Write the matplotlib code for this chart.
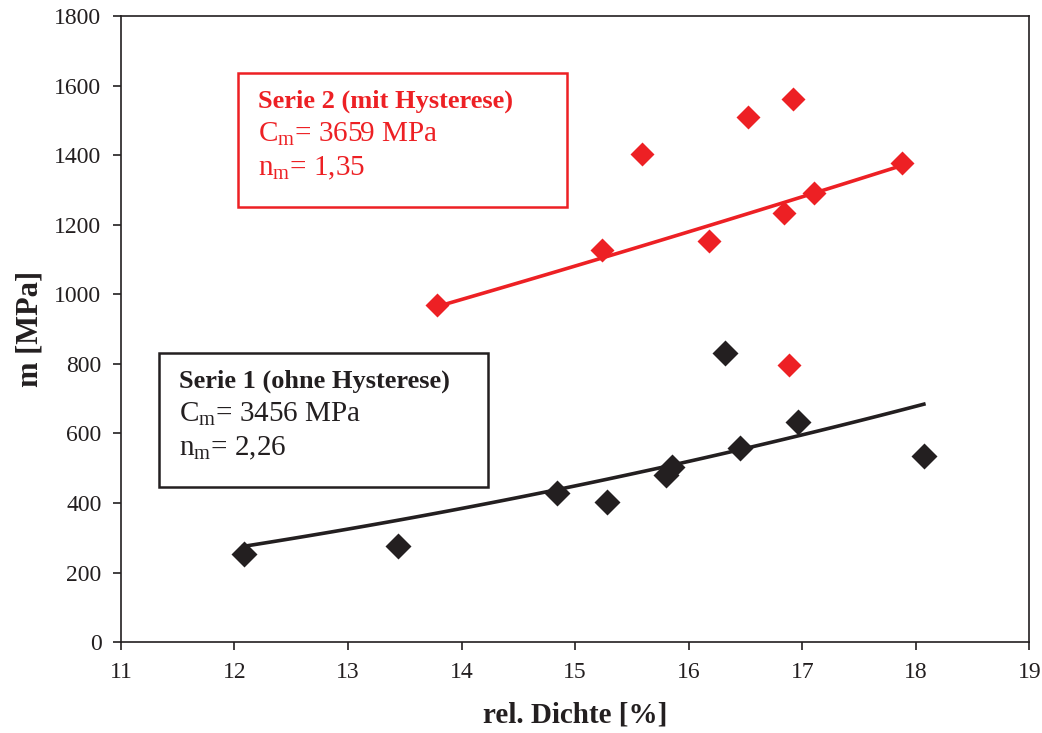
import numpy as np
import matplotlib
matplotlib.use("Agg")
import matplotlib.pyplot as plt

# Messwerte: relative Dichte [%] und Modul m [MPa]
dichte_s1 = [12.08, 13.44, 14.84, 15.28, 15.80, 15.85, 16.32, 16.45, 16.96, 18.07]
m_s1 = [253, 277, 428, 402, 480, 504, 831, 557, 632, 536]
dichte_s2 = [13.78, 15.24, 15.59, 16.18, 16.52, 16.84, 16.92, 16.88, 17.10, 17.88]
m_s2 = [969, 1127, 1403, 1153, 1510, 1234, 1561, 796, 1290, 1378]

# Potenzansatz m = C_m * (D / D_REF)^n_m
C_m1, n_m1 = 3456, 2.26
C_m2, n_m2 = 3659, 1.35
D_REF = 37.0

ROT = '#ED2024'
SCHWARZ = '#231F20'

plt.rcParams['font.family'] = ['Liberation Serif', 'DejaVu Serif']
plt.rcParams['mathtext.fontset'] = 'custom'
plt.rcParams['mathtext.rm'] = 'Liberation Serif'

fig = plt.figure(figsize=(10.42, 7.33), dpi=100)
ax = fig.add_axes([0.116, 0.124, 0.872, 0.854])

def fit(d, C, n):
    x = np.linspace(min(d), max(d), 100)
    return x, C * (x / D_REF) ** n

x1, y1 = fit(dichte_s1, C_m1, n_m1)
x2, y2 = fit(dichte_s2, C_m2, n_m2)
ax.plot(x1, y1, color=SCHWARZ, lw=2.6, zorder=2)
ax.plot(x2, y2, color=ROT, lw=2.6, zorder=2)
ax.plot(dichte_s1, m_s1, 'D', color=SCHWARZ, ms=13, mec='none', zorder=3)
ax.plot(dichte_s2, m_s2, 'D', color=ROT, ms=12.5, mec='none', zorder=3)

ax.set_xlim(11, 19)
ax.set_ylim(0, 1800)
ax.set_xticks(range(11, 20))
ax.set_yticks(range(0, 1801, 200))
ax.tick_params(direction='out', length=6, width=1.2, labelsize=17, colors=SCHWARZ, pad=8)
for s in ax.spines.values():
    s.set_linewidth(1.2)
    s.set_color(SCHWARZ)

ax.set_xlabel('rel. Dichte [%]', fontsize=21, fontweight='bold', color=SCHWARZ, labelpad=14)
ax.set_ylabel('m [MPa]', fontsize=22, fontweight='bold', color=SCHWARZ, labelpad=7)

# Textboxen mit den Fitparametern
def box(x0, y0, w, h, farbe, titel, C, n):
    r = plt.Rectangle((x0, y0), w, h, transform=fig.transFigure, fill=True,
                      facecolor='white', edgecolor=farbe, lw=1.8, zorder=4)
    fig.patches.append(r)
    tx = x0 + 0.019
    fig.text(tx, y0 + h - 0.038, titel, fontsize=19, fontweight='bold', color=farbe,
             va='center', zorder=5)
    fig.text(tx, y0 + h - 0.084, r'C$_{\mathregular{m}}$= %d MPa' % C, fontsize=21,
             color=farbe, va='center', zorder=5)
    fig.text(tx, y0 + h - 0.130, r'n$_{\mathregular{m}}$= %s' % f'{n:.2f}'.replace('.', ','),
             fontsize=21, color=farbe, va='center', zorder=5)

box(238 / 1042, 1 - 207 / 733, 329 / 1042, 134 / 733, ROT,
    'Serie 2 (mit Hysterese)', C_m2, n_m2)
box(159 / 1042, 1 - 487 / 733, 329 / 1042, 134 / 733, SCHWARZ,
    'Serie 1 (ohne Hysterese)', C_m1, n_m1)

fig.savefig('out.png', dpi=100)
